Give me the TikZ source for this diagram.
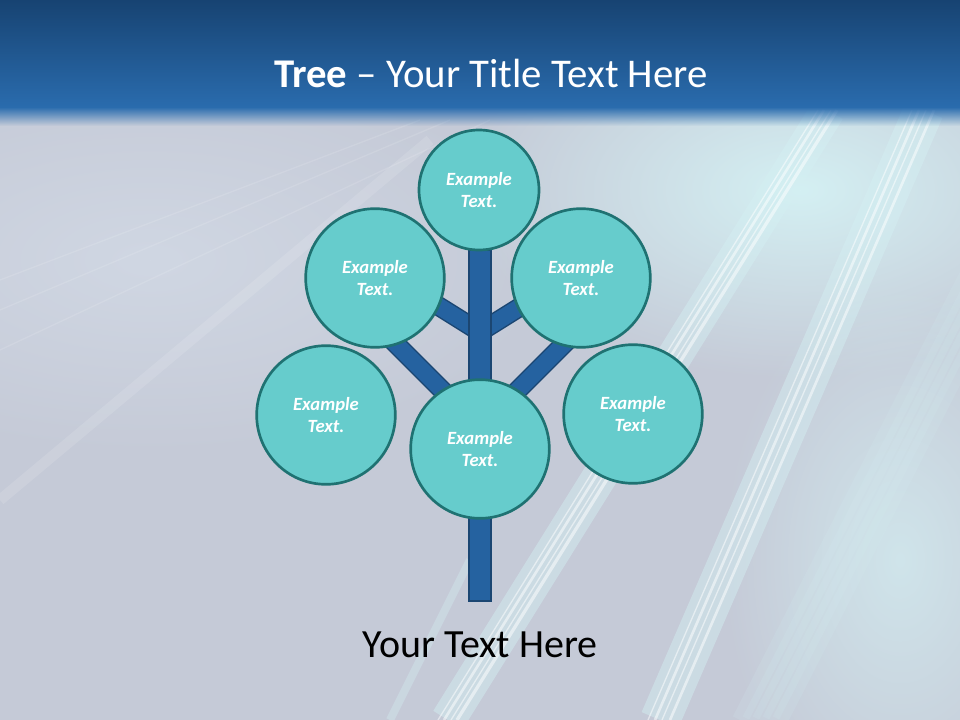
\documentclass[tikz,border=0pt]{standalone}
\usepackage{fontspec}
\setmainfont{Carlito}
\usetikzlibrary{fadings}
\definecolor{hdtop}{HTML}{174372}
\definecolor{hdbot}{HTML}{2A6CAE}
\definecolor{bgbase}{HTML}{C5CAD7}
\definecolor{bgpale}{HTML}{D0D7E3}
\definecolor{bglight}{HTML}{D4F0F3}
\definecolor{leaffill}{HTML}{66CCCC}
\definecolor{leafline}{HTML}{1F7272}
\definecolor{barfill}{HTML}{2562A0}
\definecolor{barline}{HTML}{1B4672}
\tikzfading[name=glowfade, inner color=transparent!0, outer color=transparent!100]
\tikzset{
  leaf/.style={circle, draw=leafline, fill=leaffill, line width=2pt, minimum size=104pt, inner sep=0pt,
    text=white, align=center, font=\fontsize{14}{17}\selectfont\bfseries\itshape},
  branch/.style={draw=barline, line width=1.1pt, double=barfill, double distance=12.5pt},
  streak/.style={white, opacity=0.5},
  ray/.style={bglight, line width=#1, opacity=0.45},
}
\begin{document}
\begin{tikzpicture}[x=0.75pt, y=-0.75pt]
    \useasboundingbox (0,0) rectangle (960,720);
    % background
    \fill[bgbase] (0,0) rectangle (960,720);
    \fill[bgpale, path fading=glowfade] (150,260) ellipse (420 and 200);
    \fill[bglight, path fading=glowfade] (800,190) ellipse (340 and 190);
    \fill[bglight, opacity=0.7, path fading=glowfade] (900,560) ellipse (180 and 280);
    \draw[ray=26pt] (828,110) -- (448,720);
    \draw[ray=30pt] (924,110) -- (660,720);
    \foreach \o in {-20,-10,0,10,20}
      \draw[ray=12pt, opacity=0.15] (1000+\o,250) -- (760+\o,720);
    \foreach \o/\w in {-10/1, -4/2, 3/1, 9/2.5}
      \draw[streak, line width=\w pt] (828+\o,110) -- (448+\o,720);
    \foreach \o/\w in {-12/1, -5/2, 2/1, 10/2}
      \draw[streak, line width=\w pt] (924+\o,110) -- (660+\o,720);
    \foreach \o in {0,30,70}
      \draw[white, opacity=0.12, line width=1pt] (420+\o,120) -- (0,280+\o);
    \draw[white, opacity=0.12, line width=8pt] (430,140) -- (0,500);
    \draw[bglight, opacity=0.35, line width=6pt] (470,560) -- (390,720);
    % header
    \shade[top color=hdtop, bottom color=hdbot] (0,0) rectangle (960,108);
    \fill[hdbot, path fading=south] (0,107) rectangle (960,126);
    \node[anchor=base, text=white, font=\fontsize{30.6}{36}\selectfont] (title) at (491,88)
      {\textbf{Tree} – Your Title Text Here};
    % tree
    \coordinate (fork-up) at (480,332);
    \coordinate (fork-lo) at (480,428);
    \coordinate (tip-ul) at (400,282);
    \coordinate (tip-ur) at (560,282);
    \coordinate (tip-ll) at (385,333);
    \coordinate (tip-lr) at (575,333);
    \draw[branch] (fork-up) -- (tip-ul);
    \draw[branch] (fork-up) -- (tip-ur);
    \draw[branch] (fork-lo) -- (tip-ll);
    \draw[branch] (fork-lo) -- (tip-lr);
    \draw[draw=barline, fill=barfill, line width=1.1pt] (469,250) rectangle (491,601);
    \node[leaf, minimum size=90pt] (leaf-top) at (479,190) {Example\\Text.};
    \node[leaf] (leaf-ul) at (375,278) {Example\\Text.};
    \node[leaf] (leaf-ur) at (581,278) {Example\\Text.};
    \node[leaf] (leaf-ll) at (326,415) {Example\\Text.};
    \node[leaf] (leaf-lr) at (633,414) {Example\\Text.};
    \node[leaf] (leaf-mid) at (480,449) {Example\\Text.};
    \node[anchor=base, font=\fontsize{30}{36}\selectfont] (caption) at (480,657) {Your Text Here};
\end{tikzpicture}
\end{document}
